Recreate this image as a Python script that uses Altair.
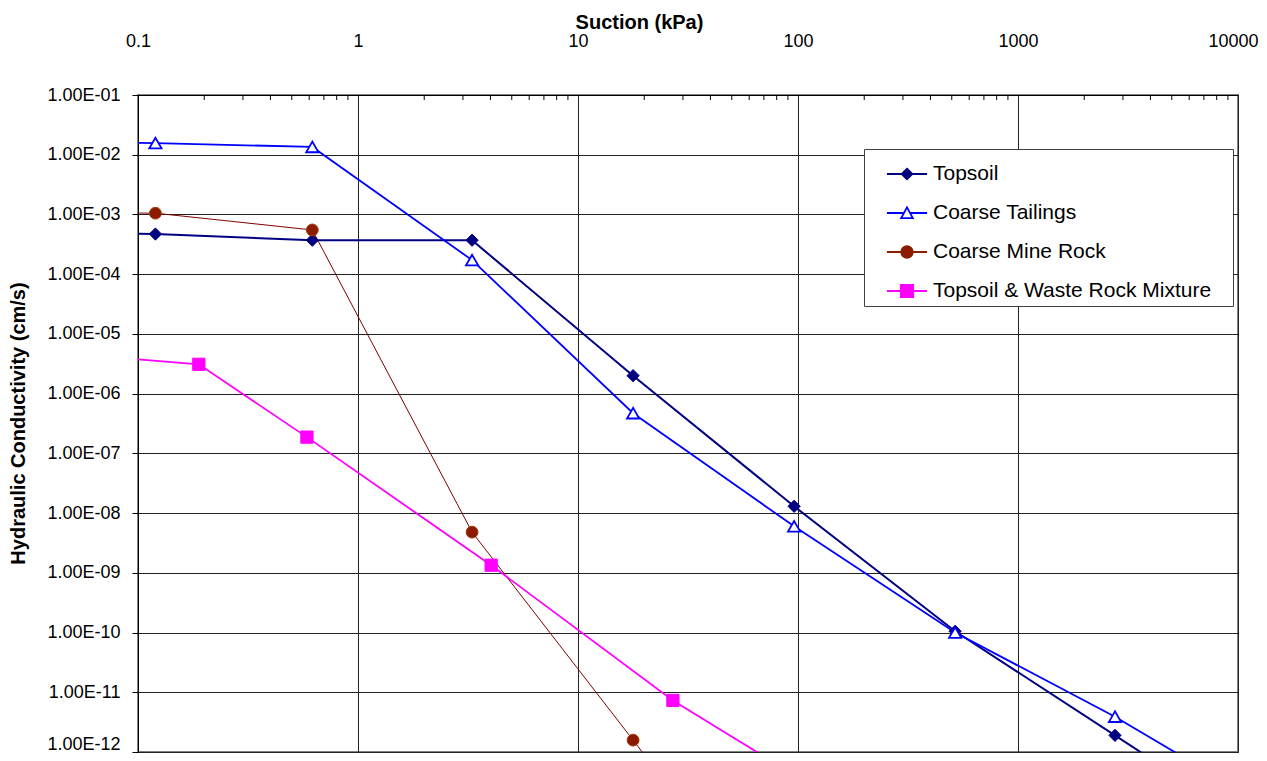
import altair as alt
import pandas as pd

# ---------------- data ----------------
SERIES = ["Topsoil", "Coarse Tailings", "Coarse Mine Rock", "Topsoil & Waste Rock Mixture"]

TOPSOIL_X = [0.0224, 0.12, 0.62, 3.3, 17.8, 96, 518, 2760, 14800]
TOPSOIL_K = [5.2e-4, 4.7e-4, 3.7e-4, 3.7e-4, 2.0e-6, 1.3e-8, 1.05e-10, 1.9e-12, 3.3e-14]

TAILINGS_X = [0.0224, 0.12, 0.62, 3.3, 17.8, 96, 518, 2760, 14800]
TAILINGS_K = [1.6e-2, 1.57e-2, 1.35e-2, 1.72e-4, 4.7e-7, 6.0e-9, 1.0e-10, 3.9e-12, 1.0e-13]

MINEROCK_X = [0.0224, 0.12, 0.62, 3.3, 17.8, 96]
MINEROCK_K = [1.1e-3, 1.05e-3, 5.5e-4, 4.8e-9, 1.58e-12, 5e-16]

MIXTURE_X = [0.03, 0.189, 0.586, 4.03, 27.0, 180]
MIXTURE_K = [5.4e-6, 3.1e-6, 1.87e-7, 1.34e-9, 7.3e-12, 1.0e-13]

X_TICKS = [0.1, 1, 10, 100, 1000, 10000]
Y_TICKS = [1e-1, 1e-2, 1e-3, 1e-4, 1e-5, 1e-6, 1e-7, 1e-8, 1e-9, 1e-10, 1e-11, 1e-12]
MINOR_X = [m * 10.0 ** e for e in range(-1, 4) for m in range(2, 10)]

# ---------------- styling ----------------
FONT = "Liberation Sans"
LINE_COLORS = {"Topsoil": "#000080", "Coarse Tailings": "#0000FF",
               "Coarse Mine Rock": "#800000", "Topsoil & Waste Rock Mixture": "#FF00FF"}
LEG_FILL = ["#000080", "#FFFFFF", "#8B1A00", "#FF00FF"]
LEG_STROKE = ["#000080", "#0000FF", "#8B2000", "#FF00FF"]
LEG_SHAPES = [
    "M-1.07,0H1.07M0,-0.285L0.285,0L0,0.285L-0.285,0Z",
    "M-1.07,0H-0.163M0.163,0H1.07M0,-0.3L0.31,0.27L-0.31,0.27Z",
    "M-1.07,0H-0.31M0.31,0H1.07M0.31,0A0.31,0.31,0,1,1,-0.31,0A0.31,0.31,0,1,1,0.31,0Z",
    "M-1.07,0H-0.33M0.33,0H1.07M-0.33,-0.33H0.33V0.33H-0.33Z",
]

rows = []
for name, xs, ks in [("Topsoil", TOPSOIL_X, TOPSOIL_K),
                     ("Coarse Tailings", TAILINGS_X, TAILINGS_K),
                     ("Coarse Mine Rock", MINEROCK_X, MINEROCK_K),
                     ("Topsoil & Waste Rock Mixture", MIXTURE_X, MIXTURE_K)]:
    for i, (x, k) in enumerate(zip(xs, ks)):
        rows.append({"series": name, "suction": x, "k": k, "order": i})
df = pd.DataFrame(rows)
minor_df = pd.DataFrame({"suction": MINOR_X})

xscale = alt.Scale(type="log", domain=[0.1, 10000], nice=False)
yscale = alt.Scale(type="log", domain=[1e-12, 0.1], nice=False)

x_axis = alt.Axis(
    orient="top", values=X_TICKS, format="~g", title="Suction (kPa)",
    titleFont=FONT, titleFontSize=20, titleFontWeight="bold", titleColor="black",
    titleX=501, titleY=-67, titleAlign="center", titleBaseline="alphabetic",
    labelFont=FONT, labelFontSize=18, labelColor="black", labelBaseline="alphabetic",
    labelPadding=49, tickSize=0, labelFlush=False, labelOverlap=False,
    labelOffset={"condition": {"test": "datum.value >= 10000", "value": -5}, "value": 0},
    domainColor="black", domainWidth=1,
    grid=True, gridColor="#222222", gridWidth=1, gridOpacity=1,
)
y_axis = alt.Axis(
    orient="left", values=Y_TICKS,
    labelExpr="'1.00E-' + (round(-log(datum.value)/LN10) < 10 ? '0' : '') + round(-log(datum.value)/LN10)",
    title="Hydraulic Conductivity (cm/s)",
    titleFont=FONT, titleFontSize=20, titleFontWeight="bold", titleColor="black",
    titleX=-120, titleY=328, titleAngle=270, titleAlign="center", titleBaseline="middle",
    labelFont=FONT, labelFontSize=18, labelColor="black", labelBaseline="middle",
    labelOffset={"condition": {"test": "datum.value < 2e-12", "value": -8}, "value": 0},
    labelPadding=12, tickSize=6, tickColor="black", labelFlush=False, labelOverlap=False,
    domainColor="black", domainWidth=1,
    grid=True, gridColor="#222222", gridWidth=1, gridOpacity=1,
)

X = alt.X("suction:Q", scale=xscale, axis=x_axis)
Y = alt.Y("k:Q", scale=yscale, axis=y_axis)

minor = alt.Chart(minor_df).mark_rule(color="black", strokeWidth=1).encode(
    x=X, y=alt.value(0), y2=alt.value(5),
)

layers = [minor]
line_widths = {"Topsoil": 2, "Coarse Tailings": 1.8, "Coarse Mine Rock": 1, "Topsoil & Waste Rock Mixture": 1.8}
for name in SERIES:
    layers.append(
        alt.Chart(df).transform_filter(alt.datum.series == name)
        .mark_line(clip=True, color=LINE_COLORS[name], strokeWidth=line_widths[name])
        .encode(x=X, y=Y, order="order:Q")
    )

def pts(name, **kw):
    return (alt.Chart(df).transform_filter(alt.datum.series == name)
            .mark_point(clip=True, opacity=1, **kw).encode(x=X, y=Y))

layers.append(pts("Topsoil", shape="diamond", filled=True, fill="#000080", stroke="#000080", strokeWidth=1, size=150))
layers.append(pts("Coarse Tailings", shape="triangle-up", filled=True, fill="white", stroke="#0000FF", strokeWidth=1.8, size=150))
layers.append(pts("Coarse Mine Rock", shape="circle", filled=True, fill="#8B1A00", stroke="#A33A0A", strokeWidth=1, size=140))
layers.append(pts("Topsoil & Waste Rock Mixture", shape="square", filled=True, fill="#FF00FF", stroke="#FF00FF", strokeWidth=1, size=150))

legend = alt.Legend(
    orient="none", legendX=726, legendY=54, title=".", titleOrient="right",
    titleOpacity=0, titleFontSize=21, titlePadding=11,
    symbolSize=1406, symbolStrokeWidth=1.8, symbolOffset=18, symbolFillColor="white",
    labelFont=FONT, labelFontSize=21, labelColor="black", labelOffset=6, labelLimit=400,
    padding=5, rowPadding=9, strokeColor="#404040", fillColor="white",
)
leg_layer = alt.Chart(df).mark_point(clip=True, filled=True, opacity=0).encode(
    x=X, y=Y,
    color=alt.Color("series:N", scale=alt.Scale(domain=SERIES, range=LEG_FILL), legend=legend),
    shape=alt.Shape("series:N", scale=alt.Scale(domain=SERIES, range=LEG_SHAPES), legend=legend),
    stroke=alt.Stroke("series:N", scale=alt.Scale(domain=SERIES, range=LEG_STROKE), legend=legend),
)
layers.append(leg_layer)

chart = alt.layer(*layers).properties(
    width=1100, height=657,
    autosize=alt.AutoSizeParams(type="none"),
    padding={"left": 130, "top": 87, "right": 21, "bottom": 1},
    background="white",
).configure_view(stroke="#808080", strokeWidth=2)

chart.save("out.html", embed_options={"renderer": "svg", "actions": False})
